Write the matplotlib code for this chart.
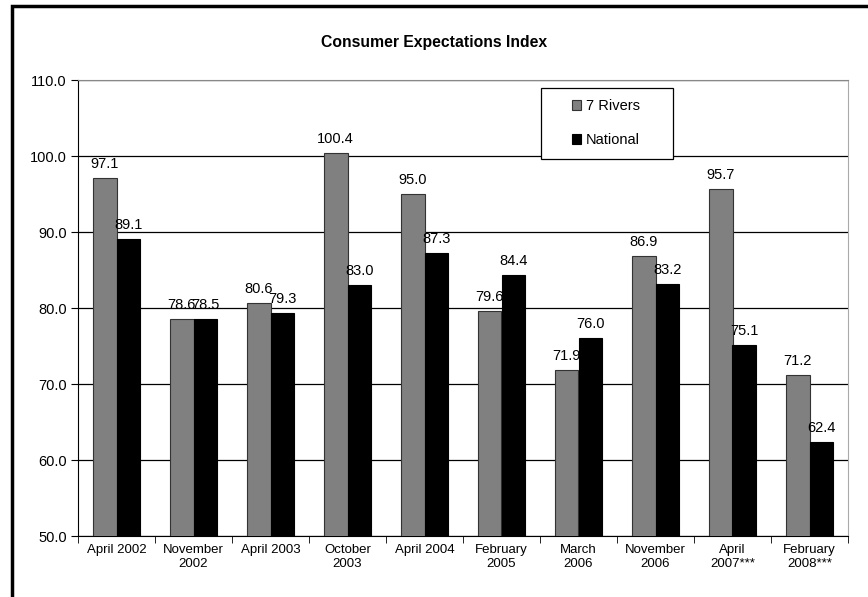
import numpy as np
import matplotlib
matplotlib.use('Agg')
import matplotlib.pyplot as plt
from matplotlib.patches import Rectangle

plt.rcParams['font.family'] = ['Liberation Sans', 'DejaVu Sans']

categories = ['April 2002', 'November\n2002', 'April 2003', 'October\n2003', 'April 2004',
              'February\n2005', 'March\n2006', 'November\n2006', 'April\n2007***', 'February\n2008***']
rivers = [97.1, 78.6, 80.6, 100.4, 95.0, 79.6, 71.9, 86.9, 95.7, 71.2]
national = [89.1, 78.5, 79.3, 83.0, 87.3, 84.4, 76.0, 83.2, 75.1, 62.4]

fig = plt.figure(figsize=(8.68, 5.97), dpi=100)
ax = fig.add_axes([78/868, 1-536/597, 770/868, 456/597])

x = np.arange(len(categories))
w = 0.31
ax.bar(x - w/2, rivers, w, color='#808080', edgecolor='#333333', linewidth=0.8, label='7 Rivers', zorder=3)
ax.bar(x + w/2, national, w, color='black', edgecolor='black', linewidth=0.8, label='National', zorder=4)

# value labels (7 Rivers labels sit behind the National bars, as in the original)
for xi, v in zip(x - w/2, rivers):
    ax.annotate(f'{v:.1f}', (xi, v), xytext=(0, 5), textcoords='offset points',
                ha='center', va='bottom', fontsize=10.5, zorder=3.5)
for xi, v in zip(x + w/2, national):
    ax.annotate(f'{v:.1f}', (xi, v), xytext=(0, 5), textcoords='offset points',
                ha='center', va='bottom', fontsize=10.5, zorder=4.5)

ax.set_ylim(50, 110)
ax.set_xlim(-0.5, len(categories) - 0.5)
ax.set_yticks(np.arange(50, 111, 10))
ax.set_yticklabels([f'{t:.1f}' for t in np.arange(50, 111, 10)], fontsize=10.5)
ax.yaxis.grid(True, color='black', linewidth=0.9, zorder=0)

# category labels centered, ticks at group boundaries
ax.set_xticks(x)
ax.set_xticklabels(categories, fontsize=9.5)
ax.tick_params(axis='x', length=0, pad=6)
ax.set_xticks(np.arange(-0.5, len(categories), 1), minor=True)
ax.tick_params(axis='x', which='minor', length=5, direction='out', color='black')
ax.tick_params(axis='y', length=5, direction='out', pad=3)

ax.spines['left'].set_color('black')
ax.spines['bottom'].set_color('black')
ax.spines['top'].set_color('#888888')
ax.spines['right'].set_color('#aaaaaa')

# legend with a separate, wider box
ax.add_patch(Rectangle((0.601, 0.827), 0.172, 0.155, transform=ax.transAxes, facecolor='white',
                       edgecolor='black', linewidth=0.9, zorder=5))
leg = ax.legend(loc='upper left', bbox_to_anchor=(0.641, 0.958), fontsize=10.5, frameon=False,
                handlelength=0.65, handleheight=0.65, handletextpad=0.35, labelspacing=1.35,
                borderpad=0, borderaxespad=0)
leg.set_zorder(6)

fig.text(0.5, 1-43/597, 'Consumer Expectations Index', ha='center', va='center',
         fontsize=11.3, fontweight='bold')

fig.patches.append(Rectangle((12/868, -0.1), 1.2, 1-6/597 + 0.1, transform=fig.transFigure,
                             fill=False, edgecolor='black', linewidth=2.5))

fig.savefig('out.png', dpi=100)
